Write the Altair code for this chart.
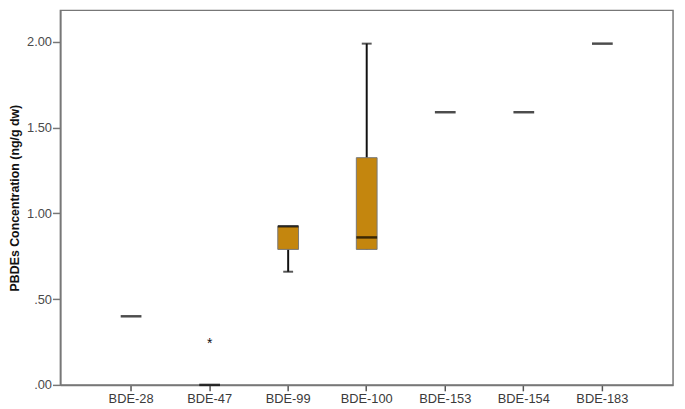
import altair as alt
import pandas as pd

categories = ["BDE-28", "BDE-47", "BDE-99", "BDE-100", "BDE-153", "BDE-154", "BDE-183"]
whisker_low = [0.40, 0.00, 0.66, 0.79, 1.59, 1.59, 1.99]
q1 = [0.40, 0.00, 0.79, 0.79, 1.59, 1.59, 1.99]
median = [0.40, 0.00, 0.925, 0.86, 1.59, 1.59, 1.99]
q3 = [0.40, 0.00, 0.925, 1.325, 1.59, 1.59, 1.99]
whisker_high = [0.40, 0.00, 0.925, 1.99, 1.59, 1.59, 1.99]

outlier_cat = ["BDE-47"]
outlier_val = [0.26]

df = pd.DataFrame({
    "cat": categories, "lo": whisker_low, "q1": q1, "med": median,
    "q3": q3, "hi": whisker_high,
})
box_df = df[df["q3"] > df["q1"]]
lo_df = df[df["lo"] < df["q1"]]
hi_df = df[df["hi"] > df["q3"]]
out_df = pd.DataFrame({"cat": outlier_cat, "val": outlier_val})

FONT = "Liberation Sans"
xscale = alt.Scale(type="band", domain=categories, paddingInner=0, paddingOuter=0.4)
yscale = alt.Scale(domain=[0, 2.184], nice=False, zero=False)

x = alt.X("cat:N", scale=xscale, sort=categories, title=None,
          axis=alt.Axis(labelAngle=0, labelFont=FONT, labelFontSize=13, labelColor="#3a3a3a",
                        tickColor="#555555", tickSize=6, tickWidth=1.5, domainColor="#777777",
                        domainWidth=1.5, labelPadding=2))
y_axis = alt.Axis(values=[0, 0.5, 1.0, 1.5, 2.0],
                  labelExpr="datum.value < 1 ? substring(format(datum.value, '.2f'), 1) : format(datum.value, '.2f')",
                  labelFont=FONT, labelFontSize=13, labelColor="#4a4a4a",
                  tickColor="#777777", tickSize=8, tickWidth=1.5, domainColor="#777777",
                  domainWidth=1.5, grid=False, titleFont=FONT, titleFontSize=12.5,
                  titleFontWeight="bold", titleColor="#111111", titlePadding=5, labelPadding=1)

base = alt.Chart(df)

whisker = base.mark_rule(color="#111111", strokeWidth=2).encode(
    x=x, y=alt.Y("lo:Q", scale=yscale, axis=y_axis, title="PBDEs Concentration (ng/g dw)"),
    y2="hi:Q")
cap_lo = alt.Chart(lo_df).mark_tick(color="#111111", thickness=2, size=10, orient="horizontal").encode(
    x=x, y=alt.Y("lo:Q", scale=yscale))
cap_hi = alt.Chart(hi_df).mark_tick(color="#111111", thickness=2, size=10, orient="horizontal").encode(
    x=x, y=alt.Y("hi:Q", scale=yscale))
box = alt.Chart(box_df).mark_bar(size=21, fill="#c4860e", stroke="#777777", strokeWidth=1).encode(
    x=x, y=alt.Y("q1:Q", scale=yscale), y2="q3:Q")
med = base.mark_tick(color="#000000", thickness=2.5, size=21, orient="horizontal").encode(
    x=x, y=alt.Y("med:Q", scale=yscale))
outl = alt.Chart(out_df).mark_text(text="*", font=FONT, fontSize=14, color="#111111",
                                  baseline="middle", dy=4).encode(
    x=x, y=alt.Y("val:Q", scale=yscale))

chart = alt.layer(whisker, box, cap_lo, cap_hi, med, outl).properties(
    width=620, height=379,
    autosize=alt.AutoSizeParams(type="none"),
    padding={"left": 53, "top": 0, "right": 4, "bottom": 22},
).configure_view(stroke="#777777", strokeWidth=1.5)

chart.save("out.html", embed_options={"renderer": "svg", "actions": False})
